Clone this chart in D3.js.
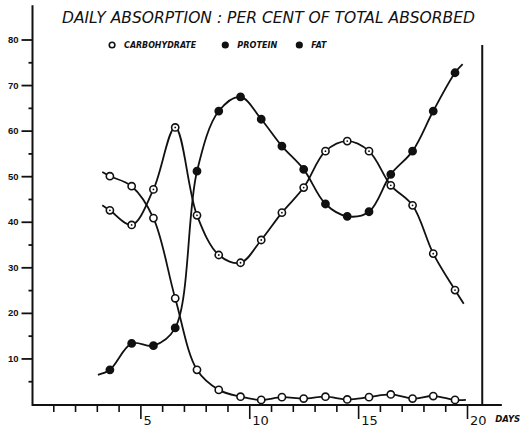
<!DOCTYPE html>
<html lang="en">
<head>
  <meta charset="UTF-8">
  <script src="https://d3js.org/d3.v7.min.js"></script>
  <title>Daily absorption</title>
  <style>
    body { margin: 0; background: #fff; }
    svg { display: block; }
  </style>
</head>
<body>
  <div id="wrapper"></div>
  <script>
    // values (day, per cent)
    const days = [3.6, 4.6, 5.6, 6.6, 7.6, 8.6, 9.6, 10.55, 11.5, 12.5, 13.5, 14.5, 15.5, 16.5, 17.5, 18.45, 19.45]
    const carbohydrate = [50, 47.8, 40.8, 23.2, 7.5, 3.1, 1.6, 0.9, 1.5, 1.2, 1.6, 1.0, 1.5, 2.1, 1.2, 1.75, 0.9]
    const protein = [42.5, 39.3, 47.1, 60.7, 41.4, 32.7, 31, 36, 42, 47.5, 55.5, 57.7, 55.5, 48, 43.6, 33, 25]
    const fat = [7.5, 13.3, 12.8, 16.7, 51.1, 64.3, 67.4, 62.5, 56.6, 51.5, 43.9, 41.2, 42.2, 50.4, 55.5, 64.3, 72.7]

    // where each hand drawn curve starts and stops beyond the first / last point
    const carbohydrateEnds = [[3.25, 50.9], [19.95, 0.9]]
    const proteinEnds = [[3.25, 43.6], [19.85, 22]]
    const fatEnds = [[3.05, 6.4], [19.8, 74.6]]

    const yMajor = [10, 20, 30, 40, 50, 60, 70, 80]
    const yMinor = [5, 15, 25, 35, 45, 55, 65, 75]
    const xTicks = d3.range(1, 21)
    const xLabels = [5, 10, 15, 20]

    const legendItems = ["CARBOHYDRATE", "PROTEIN", "FAT"]
    const title = "DAILY  ABSORPTION : PER CENT OF TOTAL ABSORBED"

    const dimensions = {
      width: 522,
      height: 428,
      margin: { top: 39.5, right: 55, bottom: 24, left: 31.5 }
    }

    const svg = d3.select("#wrapper")
        .append("svg")
        .attr("width", dimensions.width)
        .attr("height", dimensions.height)
        .style("font-family", "'DejaVu Sans', sans-serif")

    const xScale = d3.scaleLinear()
        .domain([0, 20])
        .range([dimensions.margin.left, dimensions.width - dimensions.margin.right])

    const yScale = d3.scaleLinear()
        .domain([0, 80])
        .range([dimensions.height - dimensions.margin.bottom, dimensions.margin.top])

    const ink = "#111"

    /* axes */
    const yMinorAxis = svg.append("g")
        .attr("transform", `translate(${xScale(0) + 1},0)`)
        .call(d3.axisLeft(yScale).tickValues(yMinor).tickSize(4).tickFormat(""))
    const yMajorAxis = svg.append("g")
        .attr("transform", `translate(${xScale(0) + 1},0)`)
        .call(d3.axisLeft(yScale).tickValues(yMajor).tickSize(11).tickPadding(3))
    ;[yMinorAxis, yMajorAxis].forEach(g => {
      g.select(".domain").remove()
      g.selectAll("line").attr("stroke", ink).attr("stroke-width", 1.8)
    })
    yMajorAxis.selectAll("text")
        .attr("fill", ink)
        .style("font-size", "9.5px")
        .style("font-weight", "bold")

    svg.append("line")
        .attr("x1", xScale(0) + 1).attr("x2", xScale(0) + 1)
        .attr("y1", yScale(0)).attr("y2", yScale(87.5))
        .attr("stroke", ink).attr("stroke-width", 2)

    const xAxis = svg.append("g")
        .attr("transform", `translate(0,${yScale(0) + 1})`)
        .call(d3.axisBottom(xScale).tickValues(xTicks).tickSize(7).tickFormat(""))
    xAxis.select(".domain").remove()
    xAxis.selectAll("line").attr("stroke", ink).attr("stroke-width", 1.6)
    xAxis.selectAll(".tick")
        .filter(d => xLabels.includes(d))
        .select("line").attr("y2", 14)

    svg.append("line")
        .attr("x1", xScale(0)).attr("x2", xScale(21.6))
        .attr("y1", yScale(0) + 1).attr("y2", yScale(0) + 1)
        .attr("stroke", ink).attr("stroke-width", 2)

    svg.append("g").selectAll("text")
        .data(xLabels)
        .join("text")
        .attr("x", d => xScale(d) + 3)
        .attr("y", yScale(0) + 21)
        .attr("fill", ink)
        .style("font-size", "13px")
        .text(d => d)

    svg.append("text")
        .attr("x", xScale(21.3))
        .attr("y", yScale(0) + 18)
        .attr("fill", ink)
        .style("font-size", "8.5px")
        .style("font-style", "italic")
        .style("font-weight", "bold")
        .text("DAYS")

    // right hand border line
    svg.append("line")
        .attr("x1", xScale(20.7)).attr("x2", xScale(20.7))
        .attr("y1", yScale(0) + 1).attr("y2", yScale(78.8))
        .attr("stroke", ink).attr("stroke-width", 2)

    /* title and legend */
    svg.append("text")
        .attr("x", xScale(1.4))
        .attr("y", 23)
        .attr("fill", ink)
        .attr("textLength", 413)
        .attr("lengthAdjust", "spacingAndGlyphs")
        .style("font-size", "15px")
        .style("font-style", "italic")
        .text(title)

    const legendX = [xScale(3.7), xScale(8.9), xScale(12.3)]
    const legendW = [72, 40, 15]
    const legend = svg.append("g")
        .selectAll("g")
        .data(legendItems)
        .join("g")
        .attr("transform", (d, i) => `translate(${legendX[i]},45)`)
    legend.append("circle")
        .attr("r", 2.8)
        .attr("fill", (d, i) => i === 0 ? "#fff" : ink)
        .attr("stroke", ink)
        .attr("stroke-width", 1.6)
    legend.append("text")
        .attr("x", 12)
        .attr("y", 2.8)
        .attr("fill", ink)
        .attr("textLength", (d, i) => legendW[i])
        .attr("lengthAdjust", "spacingAndGlyphs")
        .style("font-size", "8px")
        .style("font-style", "italic")
        .style("font-weight", "bold")
        .text(d => d)

    /* curves */
    const line = d3.line()
        .x(d => xScale(d[0]))
        .y(d => yScale(d[1]))
        .curve(d3.curveCatmullRom.alpha(0.5))

    const series = [
      { name: "carbohydrate", values: carbohydrate, ends: carbohydrateEnds, marker: "open" },
      { name: "protein", values: protein, ends: proteinEnds, marker: "dotted" },
      { name: "fat", values: fat, ends: fatEnds, marker: "filled" }
    ]

    series.forEach(s => {
      const pts = days.map((d, i) => [d, s.values[i]])
      svg.append("path")
          .attr("d", line([s.ends[0], ...pts, s.ends[1]]))
          .attr("fill", "none")
          .attr("stroke", ink)
          .attr("stroke-width", 1.8)
    })

    series.forEach(s => {
      const pts = days.map((d, i) => [d, s.values[i]])
      const g = svg.append("g")
      g.selectAll("circle")
          .data(pts)
          .join("circle")
          .attr("cx", d => xScale(d[0]))
          .attr("cy", d => yScale(d[1]))
          .attr("r", 3.6)
          .attr("fill", s.marker === "filled" ? ink : "#fff")
          .attr("stroke", ink)
          .attr("stroke-width", 1.6)
      if (s.marker === "dotted") {
        g.selectAll(".dot")
            .data(pts)
            .join("circle")
            .attr("class", "dot")
            .attr("cx", d => xScale(d[0]))
            .attr("cy", d => yScale(d[1]))
            .attr("r", 0.9)
            .attr("fill", ink)
      }
    })
  </script>
</body>
</html>
